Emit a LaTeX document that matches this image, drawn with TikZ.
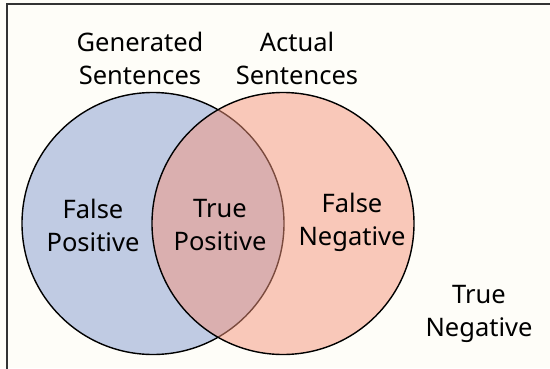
\documentclass[tikz,border=0pt]{standalone}
\usepackage{fontspec}
\setmainfont{Noto Sans}
\definecolor{bgc}{HTML}{FEFDF8}
\definecolor{bluec}{RGB}{192,203,227}
\definecolor{salmonc}{RGB}{245,149,124}
\begin{document}
\begin{tikzpicture}[x=1pt,y=-1pt,
  lab/.style={align=center,font=\fontsize{25.5}{33}\selectfont,inner sep=0pt},
  setc/.style={draw=black,line width=1.4pt}]
\useasboundingbox (0,0) rectangle (550,368);
\fill[bgc] (0,0) rectangle (550,368);
\draw[black!80,line width=1.2pt] (7,380) -- (7,4) -- (560,4);
\path[setc,fill=bluec] (153,223.5) circle[radius=131];
\path[draw=black,line width=1.4pt,fill=salmonc,fill opacity=0.5] (283,223.5) circle[radius=131];
\node[lab] (gen) at (140,58) {Generated\\Sentences};
\node[lab] (act) at (297,58) {Actual\\Sentences};
\node[lab] (fp) at (93,225) {False\\Positive};
\node[lab] (tp) at (220,225) {True\\Positive};
\node[lab] (fn) at (352,222) {False\\Negative};
\node[lab] (tn) at (479,314) {True\\Negative};
\end{tikzpicture}
\end{document}
